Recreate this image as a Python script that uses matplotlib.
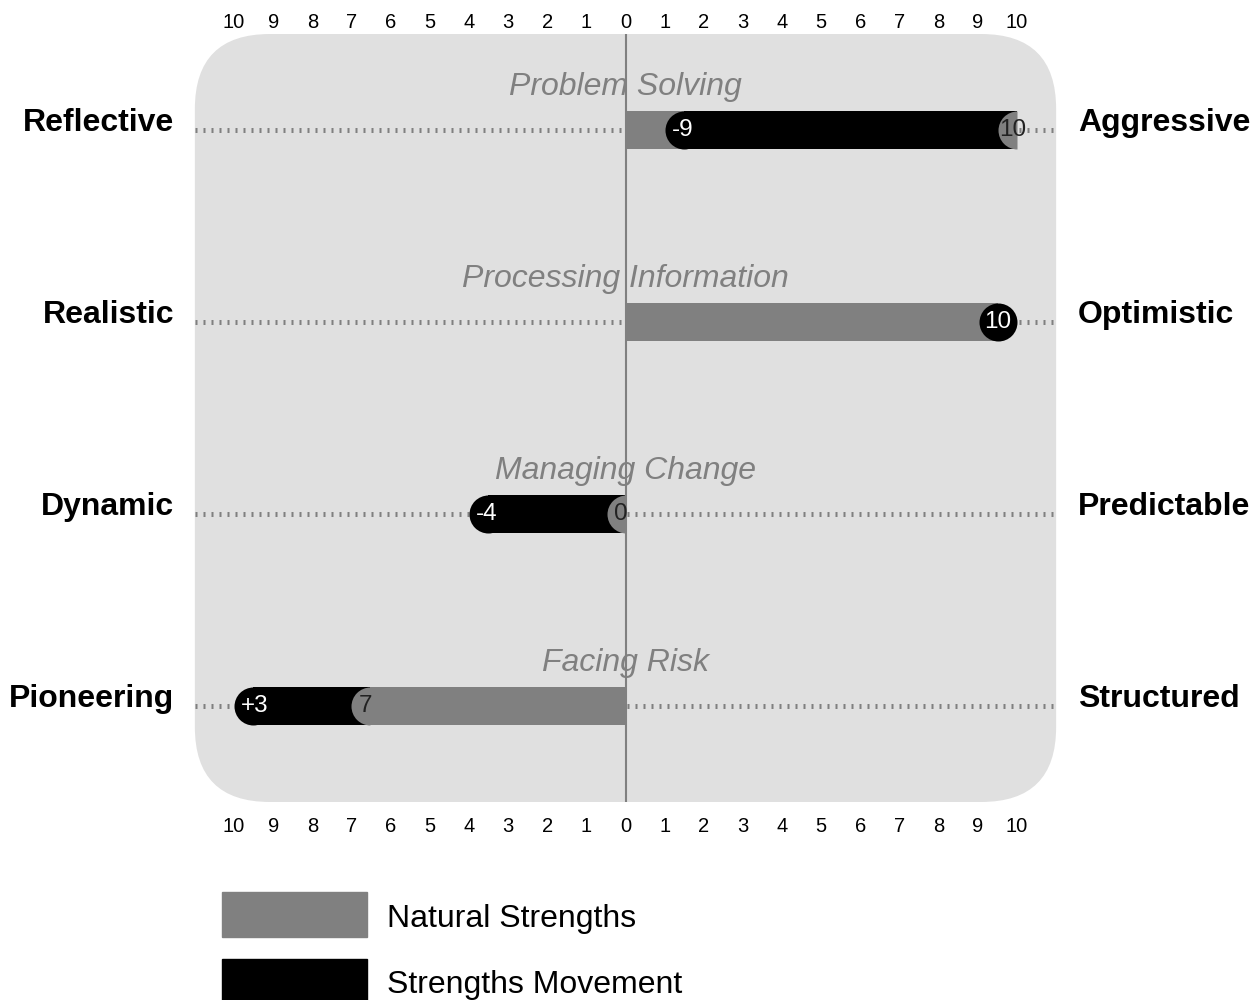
import matplotlib.pyplot as plt
import numpy as np
from matplotlib.patches import FancyBboxPatch, Rectangle
from matplotlib.transforms import IdentityTransform

plt.rcParams['font.family'] = ['Liberation Sans', 'DejaVu Sans']

# data
categories = ['Problem Solving', 'Processing Information', 'Managing Change', 'Facing Risk']
left_labels = ['Reflective', 'Realistic', 'Dynamic', 'Pioneering']
right_labels = ['Aggressive', 'Optimistic', 'Predictable', 'Structured']
natural = [10, 10, 0, -7]          # signed: negative = left trait
movement = [-9, 0, -4, -3]         # signed shift from natural position
movement_text = ['-9', '', '-4', '+3']
ticks = np.arange(-10, 11)

GRAY = '#808080'
BG = '#e0e0e0'

fig = plt.figure(figsize=(12.53, 10), dpi=100)
ax = fig.add_axes([234 / 1253, 1 - 802 / 1000, 783 / 1253, 768 / 1000])
ax.set_xlim(-10, 10)
ax.set_ylim(3.5, -0.5)
ax.axis('off')

px_x = 783 / 20.0    # pixels per x unit
px_y = 768 / 4.0     # pixels per row
bar_px = 38
bh = bar_px / px_y
r = bar_px / 2 / px_x
ms = bar_px * 72 / 100

# rounded background panel
x0, y0 = ax.transData.transform((-11, 3.5))
x1, y1 = ax.transData.transform((11, -0.5))
panel = FancyBboxPatch((x0, y0), x1 - x0, y1 - y0,
                       boxstyle='round,pad=0,rounding_size=75',
                       transform=IdentityTransform(), fc=BG, ec='none', zorder=-1)
fig.add_artist(panel)

# tick numbers top and bottom
for t in ticks:
    ax.text(t, -0.5 - 6.5 / px_y, str(abs(t)), ha='center', va='baseline', fontsize=14.5, clip_on=False)
    ax.text(t, 3.5 + 29.5 / px_y, str(abs(t)), ha='center', va='baseline', fontsize=14.5, clip_on=False)

for i in range(len(categories)):
    ax.plot([-11, 11], [i, i], color=GRAY, lw=3.6, ls=(0, (0.4, 1.2)), zorder=1, clip_on=False)
    ax.text(0, i - 34.5 / px_y, categories[i], ha='center', va='baseline', fontsize=23,
            style='italic', color=GRAY, zorder=2)
    ax.text(-10 - 60 / px_x, i + 1 / px_y, left_labels[i], ha='right', va='baseline', fontsize=23,
            fontweight='bold', clip_on=False)
    ax.text(10 + 61 / px_x, i + 1 / px_y, right_labels[i], ha='left', va='baseline', fontsize=23,
            fontweight='bold', clip_on=False)

    N = natural[i]
    M = movement[i]
    A = N + M
    if M == 0:
        s = np.sign(N) if N != 0 else 1
        c = N - s * r
        ax.barh(i, c, height=bh, color=GRAY, zorder=2)
        ax.plot(c, i, 'o', ms=ms, color='black', mew=0, zorder=4)
        ax.text(c, i + 6 / px_y, str(abs(N)), color='white', ha='center', va='baseline',
                fontsize=17.5, zorder=6)
    else:
        d = np.sign(M)
        ax.barh(i, N, height=bh, color=GRAY, zorder=2)
        cap = A - d * r
        c = N if d * N <= 0 else N - d * r
        ax.barh(i, c - cap, left=cap, height=bh, color='black', zorder=3)
        ax.plot(cap, i, 'o', ms=ms, color='black', mew=0, zorder=3)
        ax.plot(c, i, 'o', ms=ms, fillstyle='left' if d < 0 else 'right', color=GRAY,
                markerfacecoloralt='none', mew=0, zorder=4)
        ax.text(A - d * 0.18, i + 6 / px_y, movement_text[i], color='white',
                ha='left' if d < 0 else 'right', va='baseline', fontsize=17.5, zorder=6)
        ax.text(c + d * r * 0.25, i + 6 / px_y, str(abs(N)), color='#222222', ha='center',
                va='baseline', fontsize=17.5, zorder=6)

# zero line
ax.plot([0, 0], [-0.5, 3.5], color=GRAY, lw=1.5, zorder=5)

# legend
fig.add_artist(Rectangle((222 / 1253, 1 - 937 / 1000), 145 / 1253, 45 / 1000,
                         transform=fig.transFigure, color=GRAY))
fig.add_artist(Rectangle((222 / 1253, 0), 145 / 1253, 41 / 1000,
                         transform=fig.transFigure, color='black'))
fig.text(387 / 1253, 1 - 926.5 / 1000, 'Natural Strengths', fontsize=23, va='baseline')
fig.text(387 / 1253, 1 - 993.5 / 1000, 'Strengths Movement', fontsize=23, va='baseline')

fig.savefig('out.png', dpi=100)
